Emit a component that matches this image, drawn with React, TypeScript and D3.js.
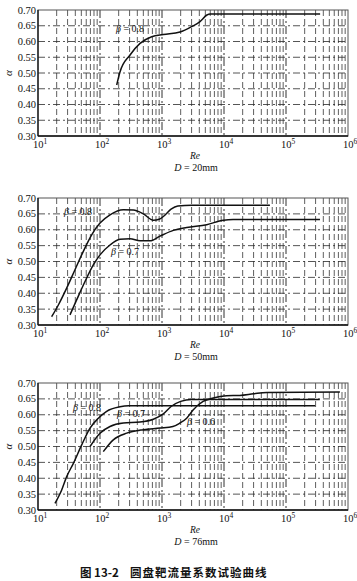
import React from 'react';
import * as d3 from 'd3';

// ---- data ----
const reDecades = [1e1, 1e2, 1e3, 1e4, 1e5, 1e6];
const decadeExponents = ['1', '2', '3', '4', '5', '6'];
const minorMultipliers = [2, 3, 4, 5, 6, 7, 8, 9];
const alphaTicks = [0.3, 0.35, 0.4, 0.45, 0.5, 0.55, 0.6, 0.65, 0.7];

// D = 20mm
const d20B08Re = [186, 210, 305, 442, 682, 1050, 1950, 3000, 4100, 5300, 6000, 355000];
const d20B08Alpha = [0.462, 0.503, 0.557, 0.594, 0.615, 0.622, 0.63, 0.647, 0.663, 0.684, 0.687, 0.687];

// D = 50mm
const d50B08Re = [16.6, 21.3, 29, 39.5, 53.8, 73.4, 100, 145, 238, 344, 500, 725, 900, 1100, 1400, 1800, 3000, 55000];
const d50B08Alpha = [0.326, 0.363, 0.416, 0.474, 0.532, 0.584, 0.621, 0.647, 0.663, 0.662, 0.65, 0.63, 0.633, 0.645, 0.665, 0.675, 0.677, 0.677];
const d50B07Re = [32.8, 42, 57.3, 78, 100, 145, 210, 305, 442, 640, 929, 1525, 2500, 5260, 9800, 14000, 353000];
const d50B07Alpha = [0.332, 0.379, 0.437, 0.489, 0.521, 0.552, 0.57, 0.572, 0.565, 0.565, 0.58, 0.598, 0.607, 0.616, 0.63, 0.632, 0.632];

// D = 76mm
const d76B08Re = [18.8, 24.1, 29, 37.2, 50.7, 69, 94, 128, 210, 290, 295000];
const d76B08Alpha = [0.321, 0.363, 0.405, 0.447, 0.505, 0.558, 0.589, 0.611, 0.625, 0.628, 0.628];
const d76B07Re = [69, 100, 145, 238, 442, 725, 1050, 1400, 2000, 3000, 350000];
const d76B07Alpha = [0.5, 0.542, 0.563, 0.574, 0.577, 0.586, 0.603, 0.626, 0.642, 0.648, 0.648];
const d76B06Re = [113, 164, 270, 500, 929, 1500, 1950, 2500, 3200, 4600, 6700, 11000, 18000, 30000, 49000, 740000];
const d76B06Alpha = [0.484, 0.521, 0.542, 0.553, 0.558, 0.563, 0.574, 0.589, 0.616, 0.642, 0.653, 0.66, 0.661, 0.666, 0.67, 0.672];

const panelTitleValues = ['20mm', '50mm', '76mm'];
const axisXName = 'Re';
const axisYName = 'α';
const captionNumber = '图 13-2';
const captionTitle = '圆盘靶流量系数试验曲线';

type Series = { re: number[]; alpha: number[]; label: string; lx: number; ly: number };

const LEFT = 38;
const RIGHT = 348;

function Panel({ top, bottom, series, title }: { top: number; bottom: number; series: Series[]; title: string }) {
  const x = d3.scaleLog().domain([1e1, 1e6]).range([LEFT, RIGHT]);
  const y = d3.scaleLinear().domain([0.3, 0.7]).range([bottom, top]);
  const minors: number[] = [];
  reDecades.slice(0, -1).forEach((d) => minorMultipliers.forEach((m) => minors.push(d * m)));
  const line = d3
    .line<[number, number]>()
    .x((d) => x(d[0]))
    .y((d) => y(d[1]))
    .curve(d3.curveMonotoneX);
  const serif = 'Liberation Serif, Times New Roman, serif';
  const mid = (LEFT + RIGHT) / 2;
  return (
    <g>
      {/* horizontal grid */}
      {alphaTicks.slice(1, -1).map((a) => (
        <line key={'h' + a} x1={LEFT} x2={RIGHT} y1={y(a)} y2={y(a)} stroke="#2a2a2a" strokeWidth={0.8} strokeDasharray="7,3,2,3" />
      ))}
      {/* vertical grid */}
      {minors.map((r) => (
        <line key={'m' + r} x1={x(r)} x2={x(r)} y1={top} y2={bottom} stroke="#2a2a2a" strokeWidth={0.75} strokeDasharray="6,3" />
      ))}
      {reDecades.slice(1, -1).map((r) => (
        <line key={'d' + r} x1={x(r)} x2={x(r)} y1={top} y2={bottom} stroke="#1a1a1a" strokeWidth={0.9} strokeDasharray="8,3,2,3" />
      ))}
      {/* frame */}
      <rect x={LEFT} y={top} width={RIGHT - LEFT} height={bottom - top} fill="none" stroke="#555" strokeWidth={1} />
      <line x1={LEFT} x2={LEFT} y1={top} y2={bottom} stroke="#111" strokeWidth={1.3} />
      <line x1={LEFT} x2={RIGHT} y1={bottom} y2={bottom} stroke="#111" strokeWidth={1.3} />
      {/* y tick labels */}
      {alphaTicks.map((a) => (
        <text key={'yl' + a} x={LEFT - 2} y={y(a) + 3.6} textAnchor="end" fontFamily={serif} fontSize={10.5} fill="#111">
          {a.toFixed(2)}
        </text>
      ))}
      <text
        transform={`translate(12,${(top + bottom) / 2}) rotate(-90)`}
        textAnchor="middle"
        fontFamily={serif}
        fontStyle="italic"
        fontSize={11}
        fill="#111"
      >
        {axisYName}
      </text>
      {/* x tick labels */}
      {reDecades.map((r, i) => (
        <text key={'xl' + r} x={x(r) + 2} y={bottom + 12} textAnchor="middle" fontFamily={serif} fontSize={10.5} fill="#111">
          10
          <tspan dy={-4} fontSize={7.5}>
            {decadeExponents[i]}
          </tspan>
        </text>
      ))}
      <text x={mid + 2} y={bottom + 23} textAnchor="middle" fontFamily={serif} fontStyle="italic" fontSize={9.5} fill="#111">
        {axisXName}
      </text>
      <text x={mid + 3} y={bottom + 35} textAnchor="middle" fontFamily={serif} fontSize={10} fill="#111">
        <tspan fontStyle="italic">D</tspan>
        {' = ' + title}
      </text>
      {/* curves */}
      {series.map((s, i) => (
        <path
          key={'c' + i}
          d={line(s.re.map((r, j) => [r, s.alpha[j]] as [number, number])) || ''}
          fill="none"
          stroke="#111"
          strokeWidth={1.5}
        />
      ))}
      {series.map((s, i) => (
        <text key={'lb' + i} x={s.lx} y={s.ly} fontFamily={serif} fontSize={10} fill="#111">
          <tspan fontStyle="italic">β</tspan>
          {' = ' + s.label}
        </text>
      ))}
    </g>
  );
}

export default function App() {
  return (
    <svg width={357} height={581} style={{ position: 'absolute', left: 0, top: 0, background: '#fff' }}>
      <rect x={0} y={0} width={357} height={581} fill="#fff" />
      <Panel
        top={10}
        bottom={136}
        title={panelTitleValues[0]}
        series={[{ re: d20B08Re, alpha: d20B08Alpha, label: '0.8', lx: 116, ly: 32 }]}
      />
      <Panel
        top={198}
        bottom={325}
        title={panelTitleValues[1]}
        series={[
          { re: d50B08Re, alpha: d50B08Alpha, label: '0.8', lx: 64, ly: 215 },
          { re: d50B07Re, alpha: d50B07Alpha, label: '0.7', lx: 111, ly: 255 },
        ]}
      />
      <Panel
        top={383}
        bottom={510}
        title={panelTitleValues[2]}
        series={[
          { re: d76B08Re, alpha: d76B08Alpha, label: '0.8', lx: 73, ly: 411 },
          { re: d76B07Re, alpha: d76B07Alpha, label: '0.7', lx: 117, ly: 417 },
          { re: d76B06Re, alpha: d76B06Alpha, label: '0.6', lx: 187, ly: 425 },
        ]}
      />
      <text x={80} y={577} fontFamily="Noto Sans CJK SC" fontSize={11.5} fontWeight="bold" fill="#111">
        {captionNumber}
      </text>
      <text x={130} y={577} fontFamily="Noto Sans CJK SC" fontSize={11.5} fontWeight="bold" letterSpacing={1} fill="#111">
        {captionTitle}
      </text>
    </svg>
  );
}
